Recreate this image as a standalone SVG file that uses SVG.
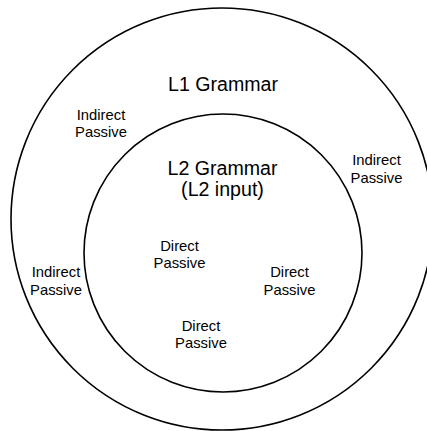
<svg xmlns="http://www.w3.org/2000/svg" width="427" height="431" viewBox="0 0 427 431">
  <style>
    .ring { fill: none; stroke: #000; stroke-width: 1.6; }
    .title { font-family: "Liberation Sans", Arial, sans-serif; font-size: 19.6px; fill: #000; text-anchor: middle; }
    .label { font-family: "Liberation Sans", Arial, sans-serif; font-size: 14.8px; fill: #000; text-anchor: middle; }
  </style>
  <rect width="427" height="431" fill="#fff"/>

  <!-- outer set: L1 grammar -->
  <g id="l1-grammar">
    <circle class="ring" cx="222" cy="219" r="211"/>
    <text class="title" x="223" y="90.5">L1 Grammar</text>
  </g>

  <!-- inner set: L2 grammar -->
  <g id="l2-grammar">
    <circle class="ring" cx="223" cy="253" r="139"/>
    <text class="title" x="222.5" y="175">L2 Grammar</text>
    <text class="title" x="222.5" y="196">(L2 input)</text>
  </g>

  <!-- indirect passives, only in L1 -->
  <g id="indirect-1">
    <text class="label" x="101" y="119.5">Indirect</text>
    <text class="label" x="101" y="137">Passive</text>
  </g>
  <g id="indirect-2">
    <text class="label" x="376.5" y="165">Indirect</text>
    <text class="label" x="376.5" y="182.5">Passive</text>
  </g>
  <g id="indirect-3">
    <text class="label" x="56" y="277">Indirect</text>
    <text class="label" x="56" y="294.5">Passive</text>
  </g>

  <!-- direct passives, shared by L1 and L2 -->
  <g id="direct-1">
    <text class="label" x="179.5" y="250.5">Direct</text>
    <text class="label" x="179.5" y="268">Passive</text>
  </g>
  <g id="direct-2">
    <text class="label" x="289.5" y="277">Direct</text>
    <text class="label" x="289.5" y="294.5">Passive</text>
  </g>
  <g id="direct-3">
    <text class="label" x="201" y="330.5">Direct</text>
    <text class="label" x="201" y="348">Passive</text>
  </g>

  <g id="connectors"/>
</svg>
